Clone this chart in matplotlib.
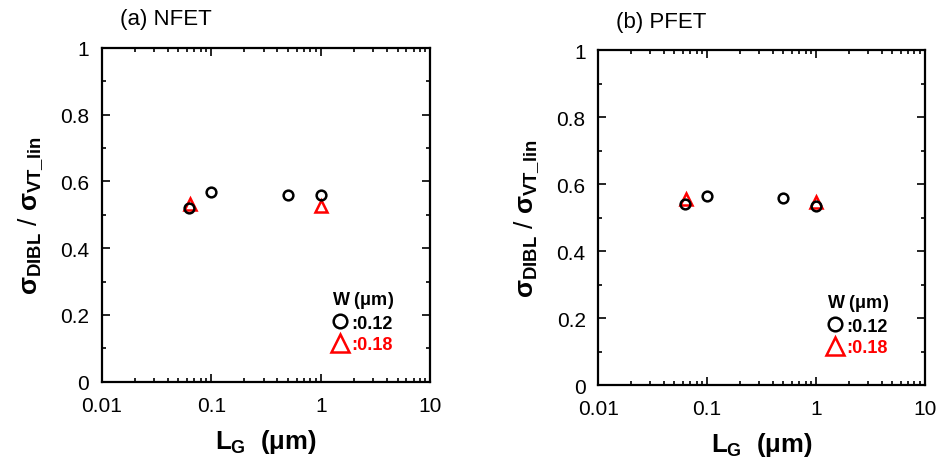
import matplotlib as mpl
import matplotlib.pyplot as plt
from matplotlib.ticker import FixedLocator, FixedFormatter, MultipleLocator, LogLocator, NullFormatter

# Data
panels = ['(a) NFET', '(b) PFET']
lg_w012 = [0.063, 0.1, 0.5, 1.0]
ratio_w012 = [[0.521, 0.568, 0.558, 0.558],
              [0.540, 0.564, 0.558, 0.533]]
lg_w018 = [0.064, 1.0]
ratio_w018 = [[0.533, 0.526],
              [0.555, 0.547]]
x_ticks = [0.01, 0.1, 1, 10]
x_labels = ['0.01', '0.1', '1', '10']
y_ticks = [0, 0.2, 0.4, 0.6, 0.8, 1]
y_labels = ['0', '0.2', '0.4', '0.6', '0.8', '1']

# General plot parameters
mpl.rcParams['font.family'] = ['Liberation Sans', 'DejaVu Sans']
mpl.rcParams['mathtext.fontset'] = 'custom'
mpl.rcParams['mathtext.rm'] = 'Liberation Sans'
mpl.rcParams['mathtext.bf'] = 'Liberation Sans:bold'
mpl.rcParams['mathtext.it'] = 'Liberation Sans:italic'
mpl.rcParams['axes.linewidth'] = 1.6

fig = plt.figure(figsize=(9.42, 4.64), dpi=100)
positions = [[0.108, 0.175, 0.349, 0.720], [0.635, 0.168, 0.347, 0.722]]

for i, pos in enumerate(positions):
    ax = fig.add_axes(pos)
    ax.plot(lg_w018, ratio_w018[i], linestyle='none', marker='^', markersize=9,
            markerfacecolor='none', markeredgecolor='red', markeredgewidth=1.8, label=':0.18')
    ax.plot(lg_w012, ratio_w012[i], linestyle='none', marker='o', markersize=7,
            markerfacecolor='none', markeredgecolor='black', markeredgewidth=1.8, label=':0.12')

    ax.set_xscale('log')
    ax.set_xlim(0.01, 10)
    ax.set_ylim(0, 1)
    ax.xaxis.set_major_locator(FixedLocator(x_ticks))
    ax.xaxis.set_major_formatter(FixedFormatter(x_labels))
    ax.xaxis.set_minor_locator(LogLocator(base=10, subs=range(2, 10)))
    ax.xaxis.set_minor_formatter(NullFormatter())
    ax.yaxis.set_major_locator(FixedLocator(y_ticks))
    ax.yaxis.set_major_formatter(FixedFormatter(y_labels))
    ax.yaxis.set_minor_locator(MultipleLocator(0.1))
    ax.tick_params(which='both', direction='in', top=True, right=True, labelsize=15, width=1.2)
    ax.tick_params(which='major', length=6)
    ax.tick_params(axis='y', which='major', pad=9)
    ax.tick_params(axis='x', which='major', pad=10)
    ax.tick_params(which='minor', length=3)

    ax.set_xlabel(r'$\mathbf{L_G}$  $\mathbf{(\mu m)}$', fontsize=18.5, labelpad=9)
    ax.set_ylabel(r'$\mathbf{\sigma_{DIBL}}$$\,\,/\,\,$$\mathbf{\sigma_{VT\_lin}}$', fontsize=19, labelpad=11)
    ax.text(0.055, 1.055, panels[i], transform=ax.transAxes, fontsize=16, ha='left', va='bottom')

    # Legend: W (um) with marker keys
    handles, labels = ax.get_legend_handles_labels()
    leg = ax.legend(handles[::-1], labels[::-1], title=r'W ($\mathbf{\mu}$m)', loc='upper left',
                    bbox_to_anchor=(0.7, 0.277), frameon=False, handlelength=0.9,
                    handletextpad=0.15, borderaxespad=0, borderpad=0, labelspacing=0.25,
                    prop={'weight': 'bold', 'size': 13}, alignment='left', markerscale=1.4)
    leg.get_title().set_fontweight('bold')
    leg.get_title().set_fontsize(13)
    leg.get_texts()[1].set_color('red')

fig.savefig('out.png', dpi=100)
